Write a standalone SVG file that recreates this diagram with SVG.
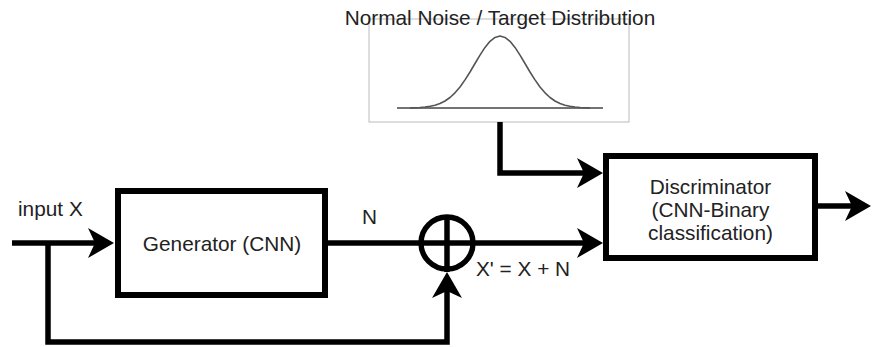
<svg xmlns="http://www.w3.org/2000/svg" width="872" height="347" viewBox="0 0 872 347">
  <style>
    .box { fill: #fff; stroke: #000; stroke-width: 6; }
    .conn { fill: none; stroke: #000; stroke-width: 5.5; }
    .t { font-family: "Liberation Sans", Arial, sans-serif; font-size: 20.8px; fill: #222; }
    .mid { text-anchor: middle; }
  </style>
  <defs>
    <marker id="arr" viewBox="0 0 26 30" refX="7" refY="15" markerWidth="26" markerHeight="30" markerUnits="userSpaceOnUse" orient="auto">
      <path d="M26,15 L0,0 L7,15 L0,30 Z" fill="#000"/>
    </marker>
  </defs>
  <rect width="872" height="347" fill="#fff"/>

  <g id="distribution">
    <rect x="369" y="19" width="260" height="103" fill="#fff" stroke="#bbb" stroke-width="1"/>
    <line x1="397" y1="108" x2="603" y2="108" stroke="#444" stroke-width="1.5"/>
    <polyline fill="none" stroke="#555" stroke-width="1.6" stroke-linejoin="round"
      points="410,108 420,107.5 425,107 430,106.3 435,105.2 440,103.5 445,101 450,97.5 455,92.8 460,87 465,79.9 470,72 475,63.5 480,55.1 485,47.4 490,41.3 495,37.4 500,36 505,37.4 510,41.3 515,47.4 520,55.1 525,63.5 530,72 535,79.9 540,87 545,92.8 550,97.5 555,101 560,103.5 565,105.2 570,106.3 575,107 580,107.5 590,108"/>
    <text class="t mid" x="500" y="25">Normal Noise / Target Distribution</text>
  </g>

  <g id="connectors">
    <path class="conn" d="M12,243 H95" marker-end="url(#arr)"/>
    <path class="conn" d="M48,243 V342 H447 V291" marker-end="url(#arr)"/>
    <path class="conn" d="M325,243 H584" marker-end="url(#arr)"/>
    <path class="conn" d="M500,122 V173 H584" marker-end="url(#arr)"/>
    <path class="conn" d="M815,206 H852" marker-end="url(#arr)"/>
  </g>

  <g id="generator">
    <rect class="box" x="118" y="191" width="207" height="104"/>
    <text class="t mid" x="222" y="251">Generator (CNN)</text>
  </g>

  <g id="sum">
    <circle cx="447" cy="243" r="26" fill="none" stroke="#000" stroke-width="5.5"/>
    <line x1="447" y1="217" x2="447" y2="272" stroke="#000" stroke-width="5.5"/>
  </g>

  <g id="discriminator">
    <rect class="box" x="606" y="156" width="209" height="102"/>
    <text class="t mid" x="710.5" y="194">Discriminator</text>
    <text class="t mid" x="710.5" y="217">(CNN-Binary</text>
    <text class="t mid" x="710.5" y="240">classification)</text>
  </g>

  <g id="labels">
    <text class="t" x="18" y="216">input X</text>
    <text class="t" x="362" y="224">N</text>
    <text class="t" x="476" y="276">X' = X + N</text>
  </g>
</svg>
